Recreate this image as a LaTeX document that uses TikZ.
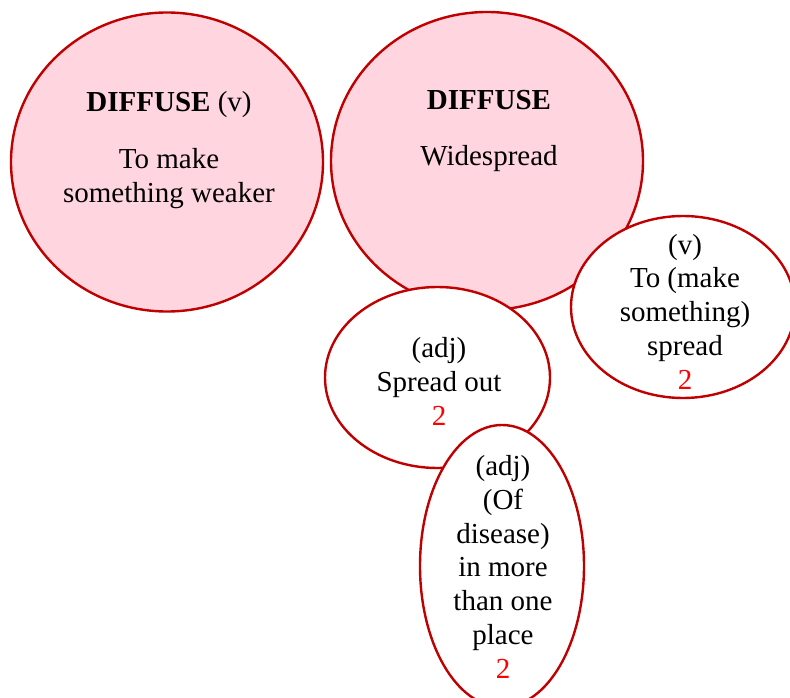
\documentclass[tikz,border=0pt]{standalone}
\usepackage{fontspec}
\setmainfont{Liberation Serif}
\usetikzlibrary{shapes.geometric}
\definecolor{rim}{RGB}{192,0,0}
\definecolor{blush}{RGB}{255,213,223}
\definecolor{countred}{RGB}{255,0,0}
\begin{document}
\begin{tikzpicture}[x=1pt,y=-1pt,
  bubble/.style={ellipse,draw=rim,line width=2.4pt,inner sep=0pt},
  mainbubble/.style={bubble,fill=blush},
  subbubble/.style={bubble,fill=white},
  words/.style={align=center,inner sep=0pt,anchor=base,
    font=\fontsize{29}{33.7}\selectfont},
  count/.style={text=countred}]
\useasboundingbox (0,0) rectangle (790,698);
% headword circles
\node[mainbubble,minimum width=312pt,minimum height=299pt] (verb) at (167,162) {};
\node[mainbubble,minimum width=312pt,minimum height=298pt] (adj) at (487,161) {};
% sense bubbles
\node[subbubble,minimum width=224pt,minimum height=182pt] (spread) at (683,307) {};
\node[subbubble,minimum width=225pt,minimum height=181pt] (out) at (437.5,377.5) {};
\node[subbubble,minimum width=164pt,minimum height=282pt] (disease) at (502,566) {};
% texts (anchored on the baseline of their last line)
\node[words] (verbtxt) at (169,202) {\textbf{DIFFUSE} (v)\\[23pt]To make\\something weaker};
\node[words] (adjtxt) at (489,166) {\textbf{DIFFUSE}\\[23pt]Widespread};
\node[words] (spreadtxt) at (685,389) {(v)\\To (make\\something)\\spread\\\textcolor{countred}{2}};
\node[words] (outtxt) at (439,425) {(adj)\\Spread out\\\textcolor{countred}{2}};
\node[words] (diseasetxt) at (503,678) {(adj)\\(Of\\disease)\\in more\\than one\\place\\\textcolor{countred}{2}};
\end{tikzpicture}
\end{document}
